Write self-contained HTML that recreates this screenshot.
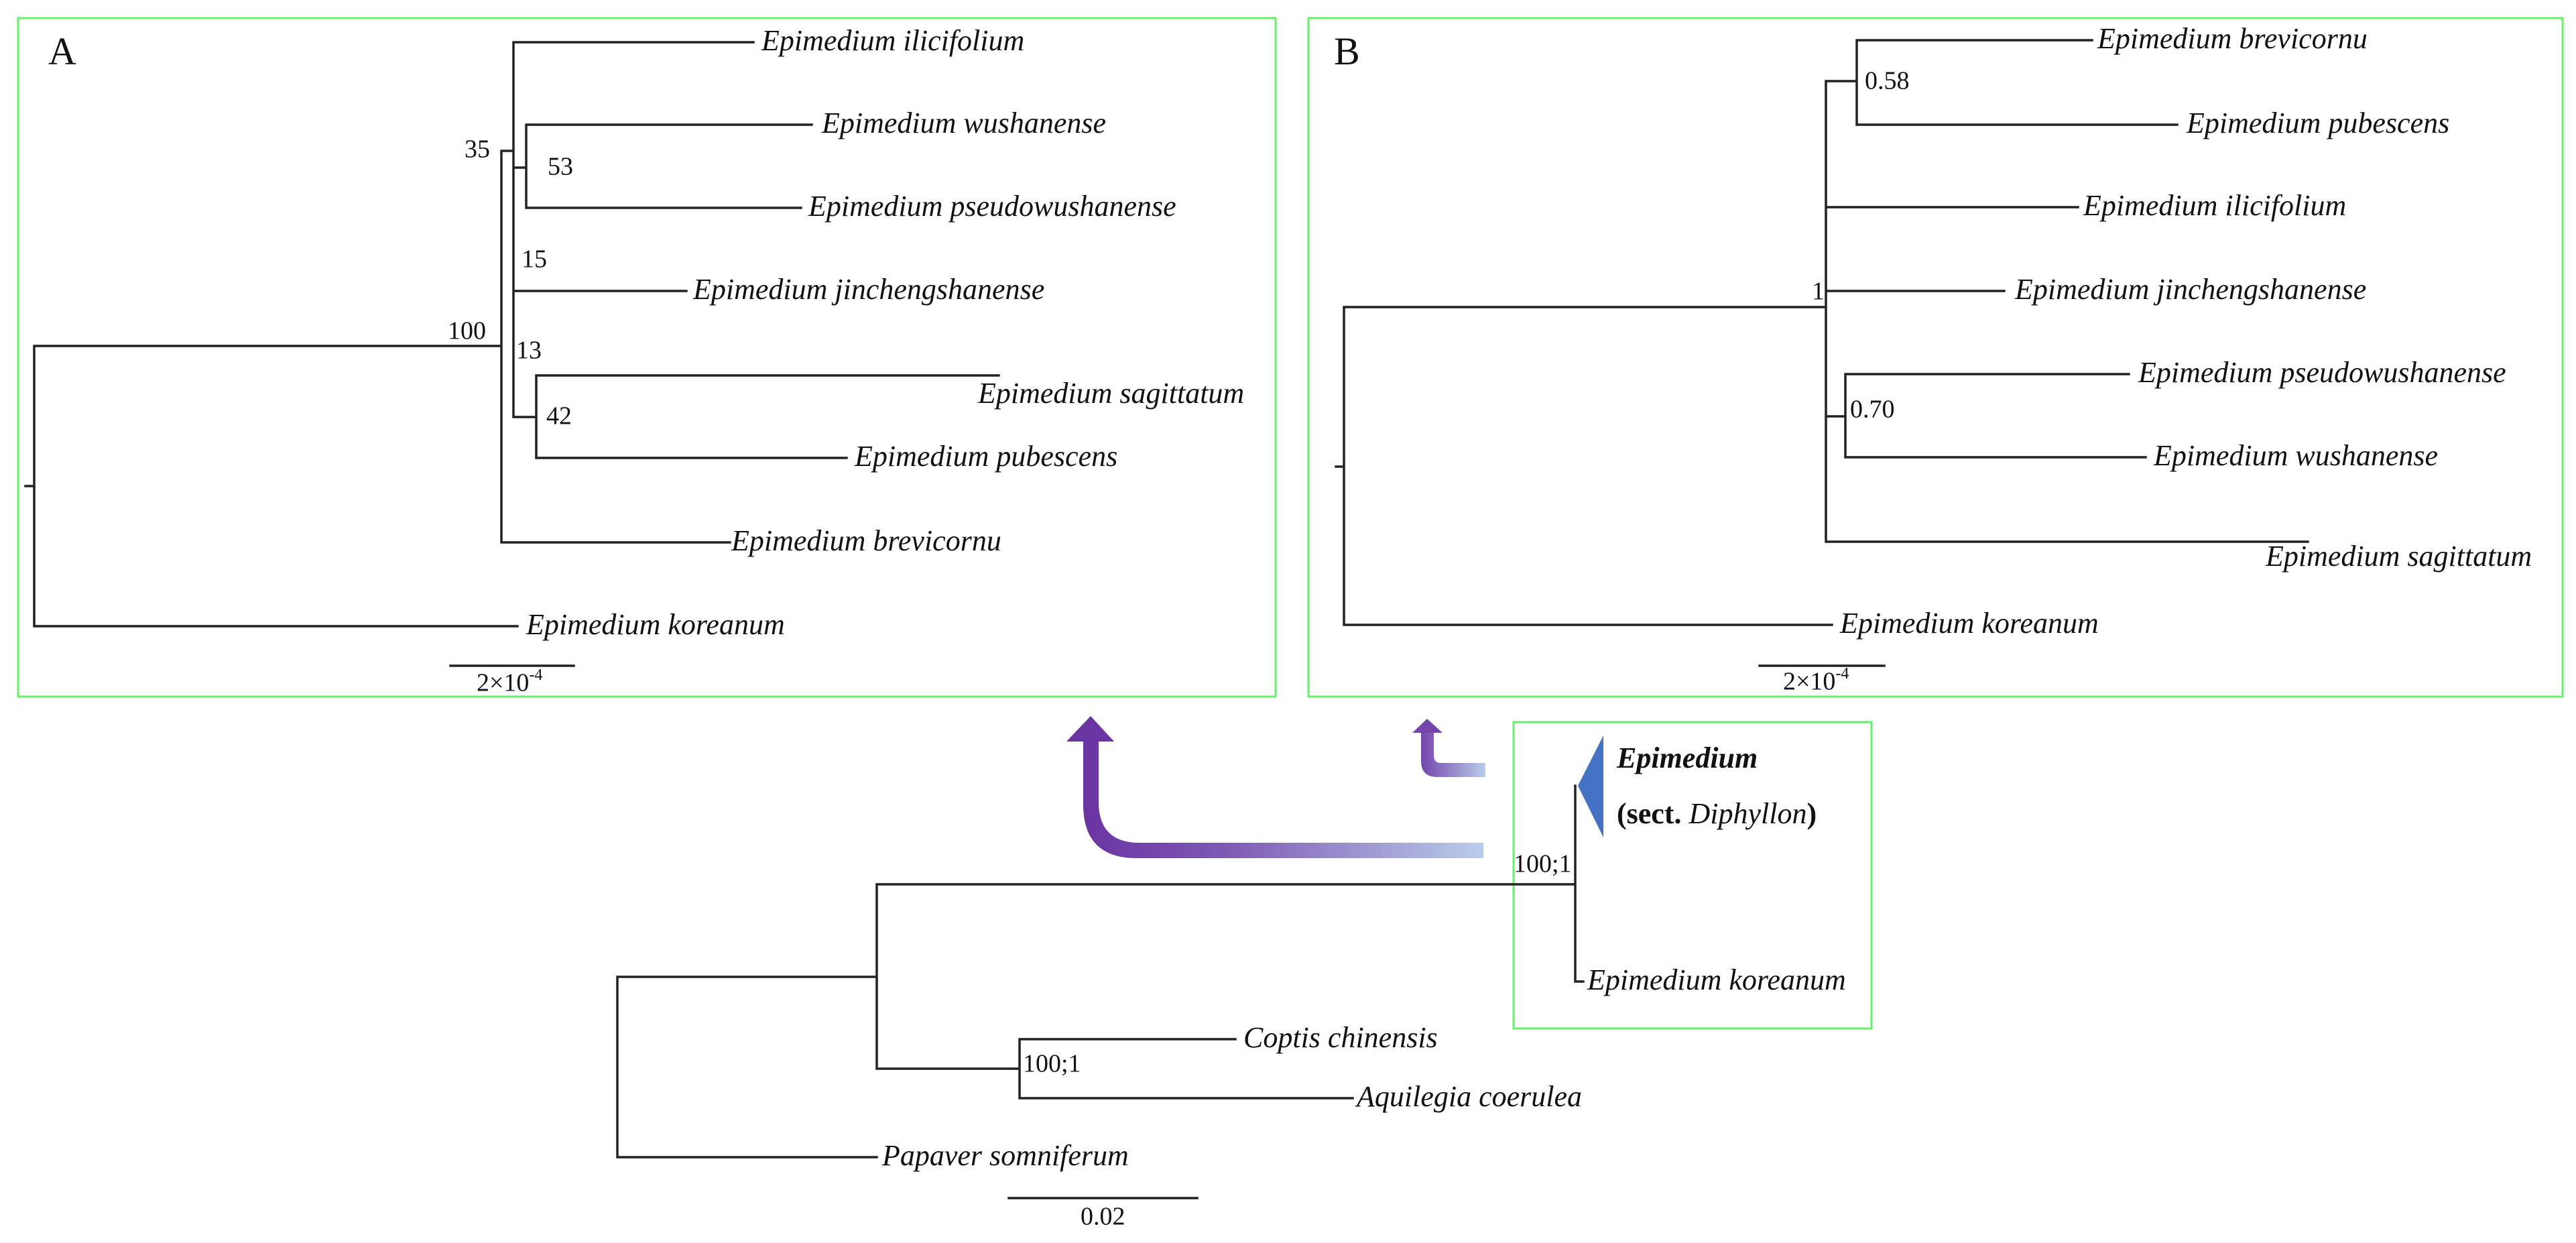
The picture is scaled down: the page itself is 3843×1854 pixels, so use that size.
<!DOCTYPE html>
<html><head><meta charset="utf-8"><style>
html,body{margin:0;padding:0;background:#fff;}
svg{display:block;}
text{font-family:"Liberation Serif",serif;fill:#111;}
.l{font-style:italic;font-size:44px;}
.n{font-size:38px;}
</style></head><body>
<svg width="3843" height="1854" viewBox="0 0 3843 1854" xmlns="http://www.w3.org/2000/svg">
<defs>
<linearGradient id="g1" x1="1616" y1="0" x2="2213" y2="0" gradientUnits="userSpaceOnUse">
<stop offset="0" stop-color="#6a34a2"/><stop offset="0.35" stop-color="#7e58b4"/><stop offset="1" stop-color="#b9cdea"/></linearGradient>
<linearGradient id="g2" x1="2120" y1="0" x2="2216" y2="0" gradientUnits="userSpaceOnUse">
<stop offset="0" stop-color="#7446ac"/><stop offset="1" stop-color="#b9cdea"/></linearGradient>
</defs>
<g fill="none" stroke="#63f06a" stroke-width="3">
<rect x="27" y="27" width="1876" height="1012"/>
<rect x="1952" y="27" width="1871" height="1012"/>
<rect x="2258" y="1077" width="534" height="457"/>
</g>
<g stroke="#222" stroke-width="3.5" fill="none" stroke-linecap="square">
<!-- Panel A -->
<path d="M38 725H51M51 516V934M51 516H748M51 934H772M748 225V809M748 809H1089M748 225H766M766 63V622M766 63H1124M766 250H785M785 186V310M785 186H1211M785 310H1195M766 434H1024M766 622H800M800 560V683M800 560H1490M800 683H1263M672 993H856"/>
<!-- Panel B -->
<path d="M1993 696H2005M2005 458V932M2005 458H2724M2005 932H2733M2724 121V808M2724 121H2770M2770 60V186M2770 60H3121M2770 186H3248M2724 309H3100M2724 434H2990M2724 621H2753M2753 558V682M2753 558H3176M2753 682H3201M2724 808H3443M2625 993H2811"/>
<!-- Bottom -->
<path d="M921 1457V1726M921 1457H1308M921 1726H1308M1308 1319V1594M1308 1319H2350M1308 1594H1521M1521 1550V1638M1521 1550H1843M1521 1638H2018M2350 1172V1464M2350 1464H2362M1505 1787H1786"/>
</g>
<!-- arrows -->
<path d="M1616 1105 V1200 Q1616 1280 1696 1280 H2213 V1257 H1700 Q1639 1257 1639 1196 V1105 Z" fill="url(#g1)"/>
<polygon points="1627,1068 1591,1106 1662,1106" fill="#6a34a2"/>
<path d="M2120 1092 V1135 Q2120 1159 2144 1159 H2216 V1138 H2150 Q2139 1138 2139 1127 V1092 Z" fill="url(#g2)"/>
<polygon points="2129,1072 2107,1093 2152,1093" fill="#7446ac"/>
<polygon points="2354,1172 2392,1097 2392,1249" fill="#4472c4"/>
<!-- Panel A text -->
<text x="72" y="96" font-size="58">A</text>
<g class="l" dominant-baseline="middle">
<text x="1136" y="65">Epimedium ilicifolium</text>
<text x="1226" y="188">Epimedium wushanense</text>
<text x="1206" y="312">Epimedium pseudowushanense</text>
<text x="1034" y="436">Epimedium jinchengshanense</text>
<text x="1459" y="591">Epimedium sagittatum</text>
<text x="1275" y="685">Epimedium pubescens</text>
<text x="1091" y="811">Epimedium brevicornu</text>
<text x="785" y="936">Epimedium koreanum</text>
</g>
<g class="n" dominant-baseline="middle">
<text x="693" y="226">35</text>
<text x="817" y="252">53</text>
<text x="778" y="390">15</text>
<text x="668" y="497">100</text>
<text x="770" y="526">13</text>
<text x="815" y="624">42</text>
<text x="711" y="1022">2×10<tspan font-size="24" dy="-14">-4</tspan></text>
</g>
<!-- Panel B text -->
<text x="1990" y="96" font-size="58">B</text>
<g class="l" dominant-baseline="middle">
<text x="3129" y="62">Epimedium brevicornu</text>
<text x="3262" y="188">Epimedium pubescens</text>
<text x="3108" y="311">Epimedium ilicifolium</text>
<text x="3006" y="436">Epimedium jinchengshanense</text>
<text x="3190" y="560">Epimedium pseudowushanense</text>
<text x="3213" y="684">Epimedium wushanense</text>
<text x="3380" y="834">Epimedium sagittatum</text>
<text x="2745" y="934">Epimedium koreanum</text>
</g>
<g class="n" dominant-baseline="middle">
<text x="2782" y="124">0.58</text>
<text x="2703" y="438">1</text>
<text x="2760" y="614">0.70</text>
<text x="2660" y="1020">2×10<tspan font-size="24" dy="-14">-4</tspan></text>
</g>
<!-- Bottom text -->
<g dominant-baseline="middle">
<text x="2412" y="1135" font-size="44" font-weight="bold" font-style="italic">Epimedium</text>
<text x="2412" y="1218" font-size="44" font-weight="bold">(sect. <tspan font-style="italic" font-weight="normal">Diphyllon</tspan>)</text>
<text class="l" x="2368" y="1466">Epimedium koreanum</text>
<text class="l" x="1855" y="1552">Coptis chinensis</text>
<text class="l" x="2024" y="1640">Aquilegia coerulea</text>
<text class="l" x="1316" y="1728">Papaver somniferum</text>
<text class="n" x="2258" y="1292">100;1</text>
<text class="n" x="1526" y="1590">100;1</text>
<text class="n" x="1612" y="1818">0.02</text>
</g>
</svg>
</body></html>
